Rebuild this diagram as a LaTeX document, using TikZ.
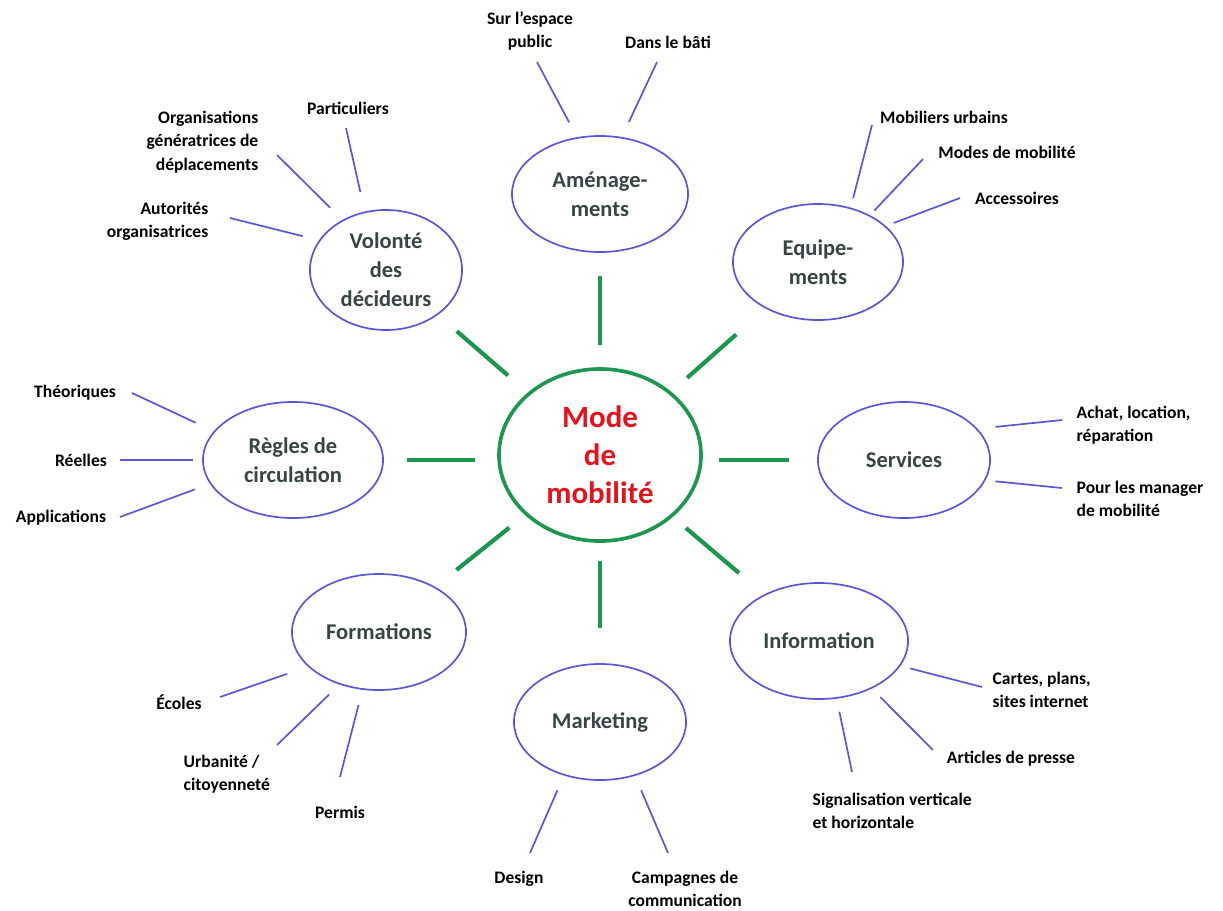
\documentclass[tikz,border=0pt]{standalone}
\usepackage{fontspec}
\setmainfont{Carlito}
\usetikzlibrary{shapes.geometric}
\definecolor{spokegreen}{RGB}{30,150,80}
\definecolor{twigblue}{RGB}{90,85,215}
\definecolor{hubred}{RGB}{225,20,30}
\definecolor{topicgray}{RGB}{55,68,68}

\tikzset{
    hub/.style={ellipse, draw=spokegreen, line width=2.6pt, inner sep=0pt,
        minimum width=5.05cm, minimum height=4.3cm, align=center, text=hubred,
        font=\fontsize{22}{27}\selectfont\bfseries},
    topic/.style={ellipse, draw=twigblue, line width=1.2pt, inner sep=0pt,
        minimum height=2.9cm, align=center, text=topicgray,
        font=\fontsize{16}{20.5}\selectfont\bfseries},
    leaf/.style={inner sep=1pt, align=center, font=\fontsize{12.5}{16.5}\selectfont\bfseries},
    spoke/.style={draw=spokegreen, line width=3pt},
    twig/.style={draw=twigblue, line width=1.2pt},
}

\begin{document}
\begin{tikzpicture}[x=0.025cm, y=-0.025cm]
    \useasboundingbox (0,0) rectangle (1223,910);

    % Central ellipse
    \node[hub] (mode) at (600,455) {Mode\\de\\mobilit\'e};

    % The eight topics around it
    \node[topic, minimum width=4.4cm] (ame) at (600,194) {Aménage-\\ments};
    \node[topic, minimum width=4.25cm] (equ) at (818,262) {Equipe-\\ments};
    \node[topic, minimum width=4.3cm] (serv) at (904,460) {Services};
    \node[topic, minimum width=4.45cm] (info) at (819,641) {Information};
    \node[topic, minimum width=4.3cm] (mark) at (600,722) {Marketing};
    \node[topic, minimum width=4.35cm] (form) at (379,632) {Formations};
    \node[topic, minimum width=4.5cm] (regl) at (293,460) {Règles de\\circulation};
    \node[topic, minimum width=3.8cm, minimum height=3cm] (vol) at (386,270) {Volonté\\des\\décideurs};

    % Green spokes (they stop short of both ellipses)
    \draw[spoke, shorten <=0.55cm, shorten >=0.575cm] (mode) -- (ame);
    \draw[spoke, shorten <=0.525cm, shorten >=0.975cm] (mode) -- (equ);
    \draw[spoke, shorten <=0.4cm, shorten >=0.7cm] (mode.east |- serv) -- (serv.west);
    \draw[spoke, shorten <=0.425cm, shorten >=0.825cm] (mode) -- (info);
    \draw[spoke, shorten <=0.45cm, shorten >=0.875cm] (mode) -- (mark);
    \draw[spoke, shorten <=0.5cm, shorten >=0.675cm] (mode) -- (form);
    \draw[spoke, shorten <=0.55cm, shorten >=0.575cm] (mode.west |- regl) -- (regl.east);
    \draw[spoke, shorten <=0.65cm, shorten >=0.625cm] (mode) -- (vol);

    % Aménagements
    \node[leaf] (espace) at (530,31) {Sur l’espace\\public};
    \node[leaf] (bati) at (668,42) {Dans le bâti};
    \coordinate (espace-end) at (537,62);
    \coordinate (bati-end) at (657,62);
    \draw[twig, shorten >=0.42cm] (espace-end) -- (ame.112);
    \draw[twig, shorten >=0.41cm] (bati-end) -- (ame.69);

    % Volonté des décideurs
    \node[leaf] (partic) at (348,108) {Particuliers};
    \node[leaf, anchor=east, align=right] (orgas) at (260,142) {Organisations\\génératrices de\\déplacements};
    \node[leaf, anchor=east, align=right] (autor) at (210,221) {Autorités\\organisatrices};
    \coordinate (partic-end) at (346,128);
    \coordinate (orgas-end) at (277,155);
    \coordinate (autor-end) at (230,218);
    \draw[twig, shorten >=0.5cm] (partic-end) -- (vol.110);
    \draw[twig, shorten >=0.43cm] (orgas-end) -- (vol.131);
    \draw[twig, shorten >=0.42cm] (autor-end) -- (vol.156);

    % Equipements
    \node[leaf] (mobil) at (944,117) {Mobiliers urbains};
    \node[leaf] (modes) at (1007,152) {Modes de mobilité};
    \node[leaf] (access) at (1017,198) {Accessoires};
    \coordinate (mobil-end) at (872,125);
    \coordinate (modes-end) at (923,159);
    \coordinate (access-end) at (960,198);
    \draw[twig, shorten >=0.24cm] (mobil-end) -- (equ.59);
    \draw[twig, shorten >=0.16cm] (modes-end) -- (equ.42);
    \draw[twig, shorten >=0.21cm] (access-end) -- (equ.28);

    % Services
    \node[leaf, anchor=west, align=left] (achat) at (1075,425) {Achat, location,\\réparation};
    \node[leaf, anchor=west, align=left] (manag) at (1075,499) {Pour les manager\\de mobilité};
    \coordinate (achat-end) at (1062,420);
    \coordinate (manag-end) at (1062,488);
    \draw[twig, shorten >=0.45cm] (achat-end) -- (serv.23);
    \draw[twig, shorten >=0.25cm] (manag-end) -- (serv.-14);

    % Information
    \node[leaf, anchor=west, align=left] (cartes) at (991,690) {Cartes, plans,\\sites internet};
    \node[leaf] (presse) at (1011,759) {Articles de presse};
    \node[leaf, anchor=west, align=left] (signal) at (811,811) {Signalisation verticale\\et horizontale};
    \coordinate (cartes-end) at (982,687);
    \coordinate (presse-end) at (933,750);
    \coordinate (signal-end) at (852,772);
    \draw[twig, shorten >=0.25cm] (cartes-end) -- (info.-17);
    \draw[twig, shorten >=0.3cm] (presse-end) -- (info.-42);
    \draw[twig, shorten >=0.33cm] (signal-end) -- (info.-73);

    % Marketing
    \node[leaf] (design) at (519,879) {Design};
    \node[leaf] (campag) at (685,889) {Campagnes de\\communication};
    \coordinate (design-end) at (530,853);
    \coordinate (campag-end) at (668,853);
    \draw[twig, shorten >=0.4cm] (design-end) -- (mark.-124);
    \draw[twig, shorten >=0.39cm] (campag-end) -- (mark.-57);

    % Formations
    \node[leaf] (ecoles) at (179,702) {Écoles};
    \node[leaf, anchor=west, align=left] (urban) at (182,774) {Urbanité /\\citoyenneté};
    \node[leaf] (permis) at (340,812) {Permis};
    \coordinate (ecoles-end) at (220,697);
    \coordinate (urban-end) at (277,745);
    \coordinate (permis-end) at (340,777);
    \draw[twig, shorten >=0.55cm] (ecoles-end) -- (form.-154);
    \draw[twig, shorten >=0.36cm] (urban-end) -- (form.-127);
    \draw[twig, shorten >=0.39cm] (permis-end) -- (form.-106);

    % Règles de circulation
    \node[leaf] (theor) at (75,393) {Théoriques};
    \node[leaf] (reel) at (81,460) {Réelles};
    \node[leaf] (applic) at (61,518) {Applications};
    \coordinate (theor-end) at (132,393);
    \coordinate (reel-end) at (120,460);
    \coordinate (applic-end) at (120,517);
    \draw[twig, shorten >=0.5cm] (theor-end) -- (regl.160);
    \draw[twig, shorten >=0.22cm] (reel-end) -- (regl.180);
    \draw[twig, shorten >=0.4cm] (applic-end) -- (regl.-164);
\end{tikzpicture}
\end{document}
